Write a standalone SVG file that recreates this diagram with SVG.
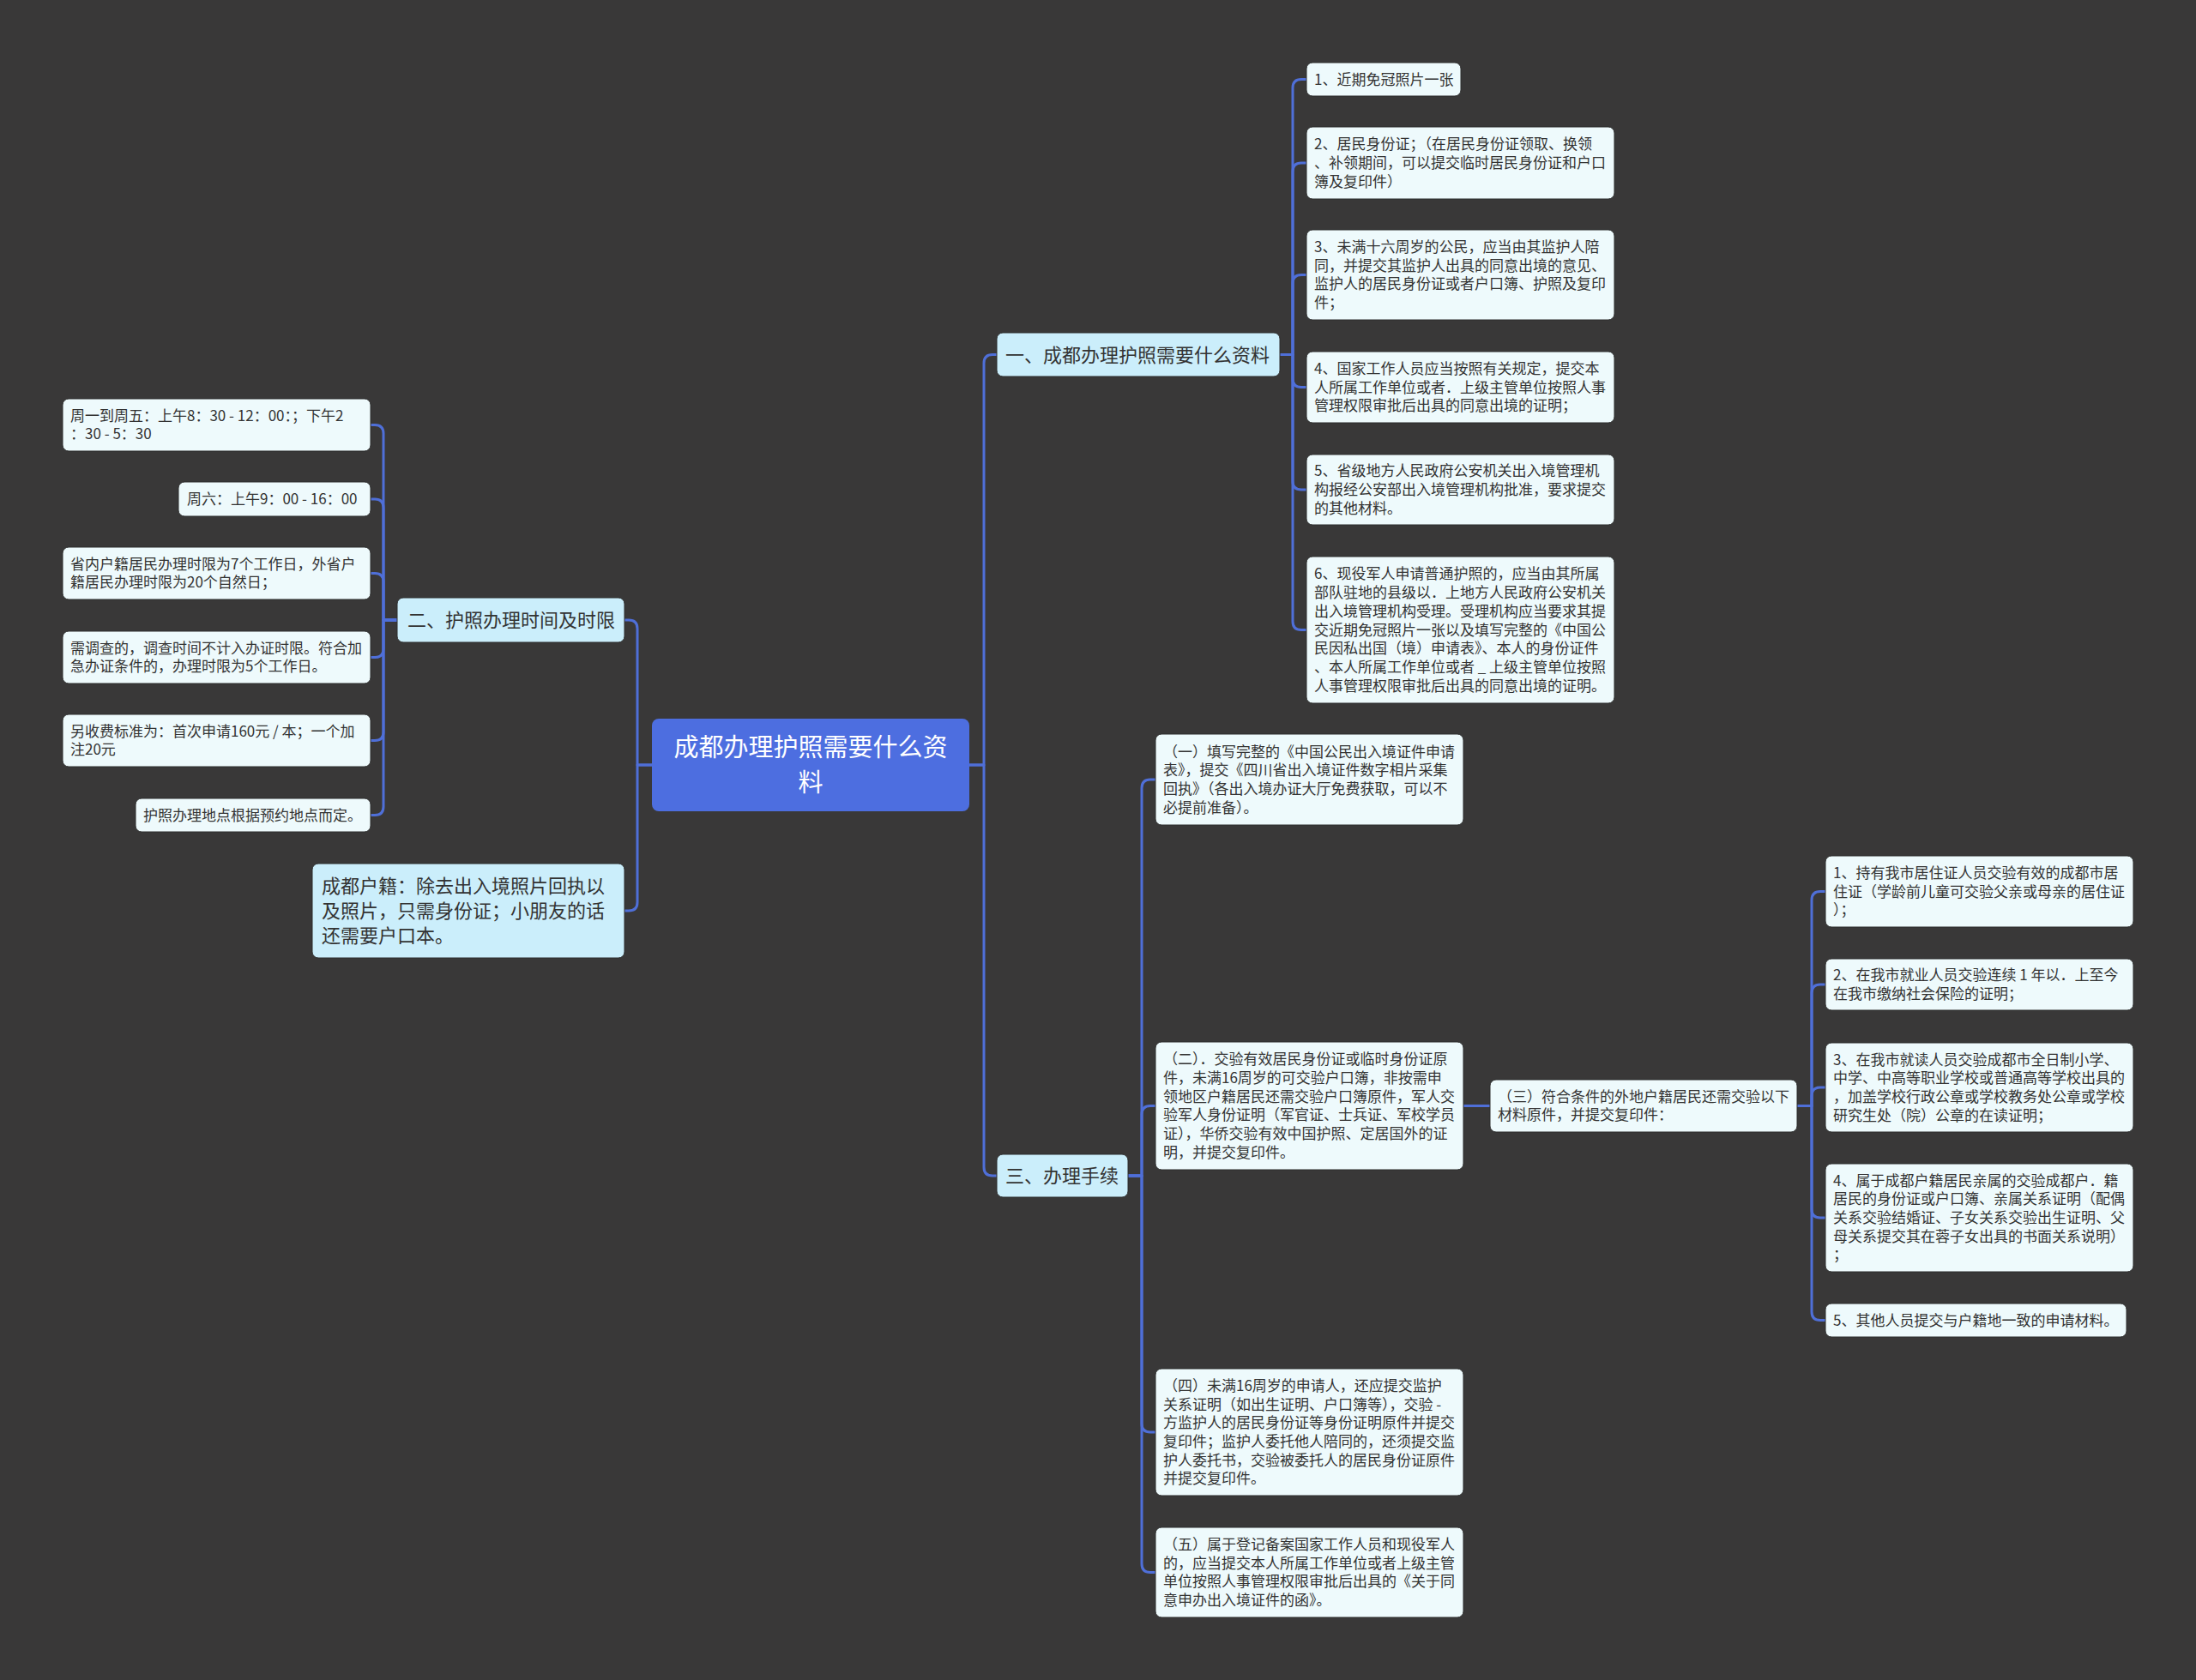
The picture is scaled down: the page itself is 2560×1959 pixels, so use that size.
<svg xmlns="http://www.w3.org/2000/svg" width="2560" height="1959" viewBox="0 0 2560 1959">
<style>
.bg{fill:#393838}
.leaf{fill:#eefafc;stroke:#2c2c2c;stroke-width:1}
.l1{fill:#cbeefb;stroke:#2c2c2c;stroke-width:1}
.root{fill:#4d6ee0}
.t{font-family:"Noto Sans CJK SC","Noto Sans",sans-serif;font-size:17px;fill:#333333}
.t1{font-family:"Noto Sans CJK SC","Noto Sans",sans-serif;font-size:22px;fill:#333333}
.tr{font-family:"Noto Sans CJK SC","Noto Sans",sans-serif;font-size:29px;fill:#ffffff;text-anchor:middle}
.c{fill:none;stroke:#4f6fd8;stroke-width:3;stroke-linejoin:round;stroke-linecap:round}
</style>
<rect class="bg" x="0" y="0" width="2560" height="1959"/>
<g id="connectors">
<path class="c" d="M463,723 H447 V505.5 Q447,495.5 437,495.5 H432"/>
<path class="c" d="M463,723 H447 V592 Q447,582 437,582 H432"/>
<path class="c" d="M463,723 H447 V678.5 Q447,668.5 437,668.5 H432"/>
<path class="c" d="M463,723 H447 V756.5 Q447,766.5 437,766.5 H432"/>
<path class="c" d="M463,723 H447 V853.5 Q447,863.5 437,863.5 H432"/>
<path class="c" d="M463,723 H447 V940.5 Q447,950.5 437,950.5 H432"/>
<path class="c" d="M760,892 H743 V733 Q743,723 733,723 H728"/>
<path class="c" d="M760,892 H743 V1052 Q743,1062 733,1062 H728"/>
<path class="c" d="M1130,892 H1147 V423.5 Q1147,413.5 1157,413.5 H1162"/>
<path class="c" d="M1130,892 H1147 V1361 Q1147,1371 1157,1371 H1162"/>
<path class="c" d="M1492,413.5 H1507 V102.5 Q1507,92.5 1517,92.5 H1523"/>
<path class="c" d="M1492,413.5 H1507 V200 Q1507,190 1517,190 H1523"/>
<path class="c" d="M1492,413.5 H1507 V330.5 Q1507,320.5 1517,320.5 H1523"/>
<path class="c" d="M1492,413.5 H1507 V441.5 Q1507,451.5 1517,451.5 H1523"/>
<path class="c" d="M1492,413.5 H1507 V561 Q1507,571 1517,571 H1523"/>
<path class="c" d="M1492,413.5 H1507 V724.5 Q1507,734.5 1517,734.5 H1523"/>
<path class="c" d="M1315,1371 H1331 V919 Q1331,909 1341,909 H1347"/>
<path class="c" d="M1315,1371 H1331 V1299.5 Q1331,1289.5 1341,1289.5 H1347"/>
<path class="c" d="M1315,1371 H1331 V1660 Q1331,1670 1341,1670 H1347"/>
<path class="c" d="M1315,1371 H1331 V1823.5 Q1331,1833.5 1341,1833.5 H1347"/>
<path class="c" d="M1705,1289.5 H1737"/>
<path class="c" d="M2095,1289.5 H2112 V1049.5 Q2112,1039.5 2122,1039.5 H2128"/>
<path class="c" d="M2095,1289.5 H2112 V1158 Q2112,1148 2122,1148 H2128"/>
<path class="c" d="M2095,1289.5 H2112 V1278 Q2112,1268 2122,1268 H2128"/>
<path class="c" d="M2095,1289.5 H2112 V1410 Q2112,1420 2122,1420 H2128"/>
<path class="c" d="M2095,1289.5 H2112 V1529.5 Q2112,1539.5 2122,1539.5 H2128"/>
</g>
<g id="root">
<rect class="root" x="760" y="838" width="370" height="108" rx="8"/>
<text class="tr" x="945" y="881.5">成都办理护照需要什么资<tspan x="945" dy="41">料</tspan></text>
</g>
<g id="n-sec2">
<rect class="l1" x="463" y="697" width="265" height="52" rx="7"/>
<text class="t1" x="475" y="731.4">二、护照办理时间及时限</text>
</g>
<g id="n-chengdu">
<rect class="l1" x="364" y="1007" width="364" height="110" rx="7"/>
<text class="t1" x="375" y="1041.4">成都户籍：除去出入境照片回执以<tspan x="375" dy="29">及照片，只需身份证；小朋友的话</tspan><tspan x="375" dy="29">还需要户口本。</tspan></text>
</g>
<g id="n-l1">
<rect class="leaf" x="73" y="465" width="359" height="61" rx="7"/>
<text class="t" x="82" y="490.7">周一到周五：上午8：30 - 12：00：；下午2<tspan x="82" dy="21.7">：30 - 5：30</tspan></text>
</g>
<g id="n-l2">
<rect class="leaf" x="208" y="562" width="224" height="40" rx="7"/>
<text class="t" x="218" y="588">周六：上午9：00 - 16：00</text>
</g>
<g id="n-l3">
<rect class="leaf" x="73" y="638" width="359" height="61" rx="7"/>
<text class="t" x="82" y="663.7">省内户籍居民办理时限为7个工作日，外省户<tspan x="82" dy="21.7">籍居民办理时限为20个自然日；</tspan></text>
</g>
<g id="n-l4">
<rect class="leaf" x="73" y="736" width="359" height="61" rx="7"/>
<text class="t" x="82" y="761.7">需调查的，调查时间不计入办证时限。符合加<tspan x="82" dy="21.7">急办证条件的，办理时限为5个工作日。</tspan></text>
</g>
<g id="n-l5">
<rect class="leaf" x="73" y="833" width="359" height="61" rx="7"/>
<text class="t" x="82" y="858.7">另收费标准为：首次申请160元 / 本；一个加<tspan x="82" dy="21.7">注20元</tspan></text>
</g>
<g id="n-l6">
<rect class="leaf" x="158" y="931" width="274" height="39" rx="7"/>
<text class="t" x="167" y="956.5">护照办理地点根据预约地点而定。</text>
</g>
<g id="n-sec1">
<rect class="l1" x="1162" y="388" width="330" height="51" rx="7"/>
<text class="t1" x="1172" y="422">一、成都办理护照需要什么资料</text>
</g>
<g id="n-r1">
<rect class="leaf" x="1523" y="73" width="180" height="39" rx="7"/>
<text class="t" x="1532" y="98.5">1、近期免冠照片一张</text>
</g>
<g id="n-r2">
<rect class="leaf" x="1523" y="148" width="359" height="84" rx="7"/>
<text class="t" x="1532" y="174.3">2、居民身份证；（在居民身份证领取、换领<tspan x="1532" dy="21.7">、补领期间，可以提交临时居民身份证和户口</tspan><tspan x="1532" dy="21.7">簿及复印件）</tspan></text>
</g>
<g id="n-r3">
<rect class="leaf" x="1523" y="268" width="359" height="105" rx="7"/>
<text class="t" x="1532" y="294">3、未满十六周岁的公民，应当由其监护人陪<tspan x="1532" dy="21.7">同，并提交其监护人出具的同意出境的意见、</tspan><tspan x="1532" dy="21.7">监护人的居民身份证或者户口簿、护照及复印</tspan><tspan x="1532" dy="21.7">件；</tspan></text>
</g>
<g id="n-r4">
<rect class="leaf" x="1523" y="410" width="359" height="83" rx="7"/>
<text class="t" x="1532" y="435.8">4、国家工作人员应当按照有关规定，提交本<tspan x="1532" dy="21.7">人所属工作单位或者．上级主管单位按照人事</tspan><tspan x="1532" dy="21.7">管理权限审批后出具的同意出境的证明；</tspan></text>
</g>
<g id="n-r5">
<rect class="leaf" x="1523" y="530" width="359" height="82" rx="7"/>
<text class="t" x="1532" y="555.3">5、省级地方人民政府公安机关出入境管理机<tspan x="1532" dy="21.7">构报经公安部出入境管理机构批准，要求提交</tspan><tspan x="1532" dy="21.7">的其他材料。</tspan></text>
</g>
<g id="n-r6">
<rect class="leaf" x="1523" y="649" width="359" height="171" rx="7"/>
<text class="t" x="1532" y="675.4">6、现役军人申请普通护照的，应当由其所属<tspan x="1532" dy="21.7">部队驻地的县级以．上地方人民政府公安机关</tspan><tspan x="1532" dy="21.7">出入境管理机构受理。受理机构应当要求其提</tspan><tspan x="1532" dy="21.7">交近期免冠照片一张以及填写完整的《中国公</tspan><tspan x="1532" dy="21.7">民因私出国（境）申请表》、本人的身份证件</tspan><tspan x="1532" dy="21.7">、本人所属工作单位或者 _ 上级主管单位按照</tspan><tspan x="1532" dy="21.7">人事管理权限审批后出具的同意出境的证明。</tspan></text>
</g>
<g id="n-sec3">
<rect class="l1" x="1162" y="1346" width="153" height="50" rx="7"/>
<text class="t1" x="1172" y="1379.4">三、办理手续</text>
</g>
<g id="n-p1">
<rect class="leaf" x="1347" y="856" width="359" height="106" rx="7"/>
<text class="t" x="1356" y="882.5">（一）填写完整的《中国公民出入境证件申请<tspan x="1356" dy="21.7">表》，提交《四川省出入境证件数字相片采集</tspan><tspan x="1356" dy="21.7">回执》（各出入境办证大厅免费获取，可以不</tspan><tspan x="1356" dy="21.7">必提前准备）。</tspan></text>
</g>
<g id="n-p2">
<rect class="leaf" x="1347" y="1215" width="359" height="149" rx="7"/>
<text class="t" x="1356" y="1241.3">（二）．交验有效居民身份证或临时身份证原<tspan x="1356" dy="21.7">件，未满16周岁的可交验户口簿，非按需申</tspan><tspan x="1356" dy="21.7">领地区户籍居民还需交验户口簿原件，军人交</tspan><tspan x="1356" dy="21.7">验军人身份证明（军官证、士兵证、军校学员</tspan><tspan x="1356" dy="21.7">证），华侨交验有效中国护照、定居国外的证</tspan><tspan x="1356" dy="21.7">明，并提交复印件。</tspan></text>
</g>
<g id="n-p3">
<rect class="leaf" x="1737" y="1259" width="358" height="61" rx="7"/>
<text class="t" x="1746" y="1284.7">（三）符合条件的外地户籍居民还需交验以下<tspan x="1746" dy="21.7">材料原件，并提交复印件：</tspan></text>
</g>
<g id="n-q1">
<rect class="leaf" x="2128" y="998" width="359" height="83" rx="7"/>
<text class="t" x="2137" y="1023.8">1、持有我市居住证人员交验有效的成都市居<tspan x="2137" dy="21.7">住证（学龄前儿童可交验父亲或母亲的居住证</tspan><tspan x="2137" dy="21.7">）；</tspan></text>
</g>
<g id="n-q2">
<rect class="leaf" x="2128" y="1118" width="359" height="60" rx="7"/>
<text class="t" x="2137" y="1143.2">2、在我市就业人员交验连续 1 年以．上至今<tspan x="2137" dy="21.7">在我市缴纳社会保险的证明；</tspan></text>
</g>
<g id="n-q3">
<rect class="leaf" x="2128" y="1216" width="359" height="104" rx="7"/>
<text class="t" x="2137" y="1241.5">3、在我市就读人员交验成都市全日制小学、<tspan x="2137" dy="21.7">中学、中高等职业学校或普通高等学校出具的</tspan><tspan x="2137" dy="21.7">，加盖学校行政公章或学校教务处公章或学校</tspan><tspan x="2137" dy="21.7">研究生处（院）公章的在读证明；</tspan></text>
</g>
<g id="n-q4">
<rect class="leaf" x="2128" y="1357" width="359" height="126" rx="7"/>
<text class="t" x="2137" y="1382.6">4、属于成都户籍居民亲属的交验成都户．籍<tspan x="2137" dy="21.7">居民的身份证或户口簿、亲属关系证明（配偶</tspan><tspan x="2137" dy="21.7">关系交验结婚证、子女关系交验出生证明、父</tspan><tspan x="2137" dy="21.7">母关系提交其在蓉子女出具的书面关系说明）</tspan><tspan x="2137" dy="21.7">；</tspan></text>
</g>
<g id="n-q5">
<rect class="leaf" x="2128" y="1520" width="351" height="39" rx="7"/>
<text class="t" x="2137" y="1545.5">5、其他人员提交与户籍地一致的申请材料。</text>
</g>
<g id="n-p4">
<rect class="leaf" x="1347" y="1596" width="359" height="148" rx="7"/>
<text class="t" x="1356" y="1621.8">（四）未满16周岁的申请人，还应提交监护<tspan x="1356" dy="21.7">关系证明（如出生证明、户口簿等），交验 -</tspan><tspan x="1356" dy="21.7">方监护人的居民身份证等身份证明原件并提交</tspan><tspan x="1356" dy="21.7">复印件；监护人委托他人陪同的，还须提交监</tspan><tspan x="1356" dy="21.7">护人委托书，交验被委托人的居民身份证原件</tspan><tspan x="1356" dy="21.7">并提交复印件。</tspan></text>
</g>
<g id="n-p5">
<rect class="leaf" x="1347" y="1781" width="359" height="105" rx="7"/>
<text class="t" x="1356" y="1807">（五）属于登记备案国家工作人员和现役军人<tspan x="1356" dy="21.7">的，应当提交本人所属工作单位或者上级主管</tspan><tspan x="1356" dy="21.7">单位按照人事管理权限审批后出具的《关于同</tspan><tspan x="1356" dy="21.7">意申办出入境证件的函》。</tspan></text>
</g>
</svg>
